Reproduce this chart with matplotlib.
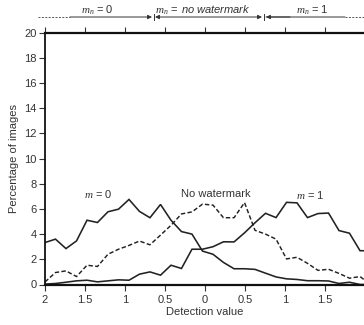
import matplotlib
matplotlib.use("Agg")
import matplotlib.pyplot as plt
from matplotlib.lines import Line2D
from matplotlib.transforms import IdentityTransform

plt.rcParams['font.family'] = ['Liberation Sans', 'DejaVu Sans']
plt.rcParams['mathtext.fontset'] = 'custom'
plt.rcParams['mathtext.it'] = 'Liberation Serif:italic'
plt.rcParams['mathtext.rm'] = 'Liberation Sans'
plt.rcParams['mathtext.sf'] = 'Liberation Sans:italic'

# Detection value bins
detection = [-2.0, -1.869, -1.738, -1.606, -1.475, -1.344, -1.213, -1.081, -0.95, -0.819,
             -0.688, -0.556, -0.425, -0.294, -0.163, -0.031, 0.1, 0.231, 0.363, 0.494,
             0.625, 0.756, 0.888, 1.019, 1.15, 1.281, 1.413, 1.544, 1.675, 1.806,
             1.938, 2.069]
# Percentage of images
m0 = [3.33, 3.6, 2.85, 3.46, 5.1, 4.92, 5.77, 5.98, 6.75, 5.8,
      5.3, 6.35, 5.1, 4.2, 4.0, 2.65, 2.4, 1.75, 1.25, 1.25,
      1.2, 0.9, 0.6, 0.45, 0.4, 0.3, 0.3, 0.28, 0.08, 0.18,
      0.0, 0.0]
no_wm = [0.2, 0.95, 1.08, 0.63, 1.53, 1.43, 2.4, 2.8, 3.1, 3.45,
         3.15, 3.92, 4.7, 5.6, 5.76, 6.38, 6.3, 5.3, 5.3, 6.5,
         4.3, 4.0, 3.6, 2.03, 2.16, 1.68, 1.12, 1.21, 0.88, 0.5,
         0.63, 0.0]
m1 = [0.03, 0.08, 0.18, 0.29, 0.34, 0.21, 0.29, 0.37, 0.34, 0.82,
      1.0, 0.74, 1.53, 1.27, 2.8, 2.8, 3.0, 3.39, 3.38, 4.1,
      4.9, 5.65, 5.31, 6.52, 6.48, 5.31, 5.63, 5.67, 4.28, 4.07,
      2.68, 2.68]

xticks = [-2, -1.5, -1, -0.5, 0, 0.5, 1, 1.5]
xticklabels = ['2', '1.5', '1', '0.5', '0', '0.5', '1', '1.5']
yticks = [0, 2, 4, 6, 8, 10, 12, 14, 16, 18, 20]

W, H = 364, 325
fig = plt.figure(figsize=(W / 100, H / 100), dpi=100)
ax = fig.add_axes([45 / W, 40.5 / H, 320 / W, 252 / H])

ink = '#222222'
ax.plot(detection, m0, color=ink, lw=1.15, solid_joinstyle='miter')
ax.plot(detection, no_wm, color=ink, lw=1.05, ls=(0, (3, 1.6)))
ax.plot(detection, m1, color=ink, lw=1.15, solid_joinstyle='miter')

ax.set_xlim(-2, 2)
ax.set_ylim(0, 20)
ax.set_xticks(xticks)
ax.set_xticklabels(xticklabels)
ax.set_yticks(yticks)
ax.tick_params(axis='both', direction='out', length=4, width=0.8, colors='#333333',
               labelsize=8, pad=2)
ax.tick_params(axis='x', top=True, labeltop=False, pad=3.5)
ax.spines['right'].set_visible(False)
ax.spines['top'].set_linewidth(1.6)
ax.spines['bottom'].set_linewidth(1.6)
ax.spines['left'].set_linewidth(1.3)
for s in ('top', 'bottom', 'left'):
    ax.spines[s].set_color('#111111')

ax.set_xlabel('Detection value', fontsize=8, color='#333333', labelpad=1.5)
ax.set_ylabel('Percentage of images', fontsize=8, color='#333333', labelpad=4)

ax.text(-1.34, 7.2, '$m$ = 0', ha='center', va='center', fontsize=8, color='#333333')
ax.text(0.14, 7.2, 'No watermark', ha='center', va='center', fontsize=8, color='#333333')
ax.text(1.32, 7.1, '$m$ = 1', ha='center', va='center', fontsize=8, color='#333333')

# top annotation row (figure pixel coordinates)
yA = H - 17
tr = IdentityTransform()
acol = '#333333'
fig.add_artist(Line2D([38, 70], [yA, yA], transform=tr, color='#555555', lw=0.7, ls=(0, (2, 1.5))))
fig.add_artist(Line2D([345, 364], [yA, yA], transform=tr, color='#555555', lw=0.7, ls=(0, (2, 1.5))))
ap = dict(lw=0.7, color=acol, mutation_scale=6, shrinkA=0, shrinkB=0)
ax.annotate('', xy=(152, yA), xytext=(70, yA), xycoords='figure pixels',
            arrowprops=dict(arrowstyle='-|>', **ap))
ax.annotate('', xy=(262, yA), xytext=(155, yA), xycoords='figure pixels',
            arrowprops=dict(arrowstyle='<|-|>', **ap))
ax.annotate('', xy=(345, yA), xytext=(266, yA), xycoords='figure pixels',
            arrowprops=dict(arrowstyle='-', **ap))
ax.annotate('', xy=(266, yA), xytext=(290, yA), xycoords='figure pixels',
            arrowprops=dict(arrowstyle='-|>', **ap))
fig.add_artist(Line2D([153.5, 153.5], [yA - 3, yA + 3], transform=tr, color=acol, lw=0.7))
fig.add_artist(Line2D([264, 264], [yA - 3, yA + 3], transform=tr, color=acol, lw=0.7))

fig.text(97 / W, (H - 10) / H, '$m_n$ = 0', ha='center', va='center', fontsize=8, color=acol)
fig.text(203 / W, (H - 10) / H, '$m_n$ = $\\,\\mathsf{no\\ watermark}$', ha='center', va='center',
         fontsize=8, color=acol)
fig.text(312 / W, (H - 10) / H, '$m_n$ = 1', ha='center', va='center', fontsize=8, color=acol)

fig.savefig('out.png', dpi=100)
